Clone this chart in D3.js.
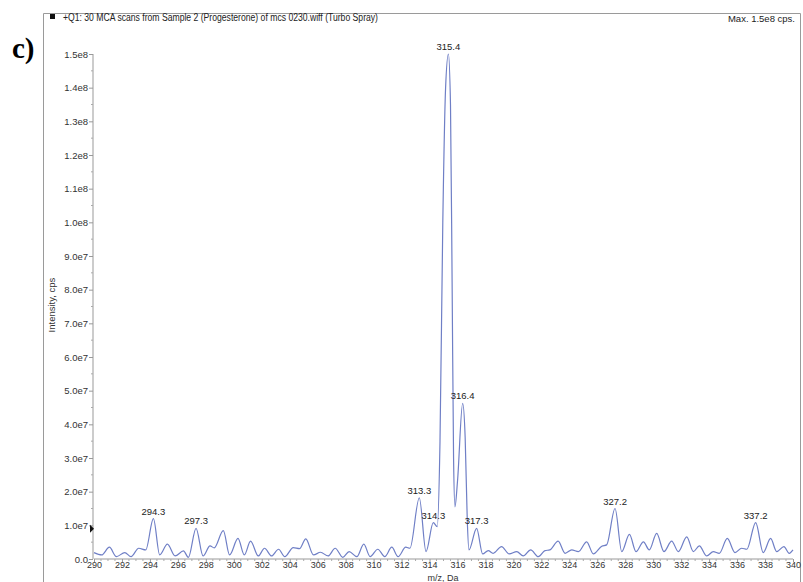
<!DOCTYPE html>
<html>
<head>
<meta charset="utf-8">
<script src="https://cdn.jsdelivr.net/npm/d3@7"></script>
<style>
  body { margin: 0; background: #fff; }
  svg text { font-family: "Liberation Sans", Arial, sans-serif; }
</style>
</head>
<body>
<div id="chart"></div>
<script>
// m/z (Da) and intensity (in units of 1e7 cps)
const mz = [
  290.0, 290.55, 291.1, 291.6, 292.2, 292.65, 293.2, 293.7, 294.25, 294.7,
  295.25, 295.8, 296.4, 296.75, 297.3, 297.8, 298.3, 298.6, 299.25, 299.7,
  300.3, 300.75, 301.2, 301.75, 302.2, 302.7, 303.2, 303.65, 304.25, 304.7,
  305.15, 305.7, 306.2, 306.75, 307.25, 307.8, 308.25, 308.8, 309.3, 309.75,
  310.3, 310.8, 311.3, 311.75, 312.3, 312.6, 313.27, 313.75, 314.27, 314.55,
  314.75, 314.95, 315.15, 315.35, 315.5, 315.62, 315.72, 315.82, 316.0, 316.37,
  316.55, 316.7, 316.82, 317.37, 317.8, 318.2, 318.55, 319.15, 319.7, 320.24,
  320.7, 321.24, 321.78, 322.26, 322.6, 323.2, 323.7, 324.17, 324.65, 325.24,
  325.72, 326.32, 326.67, 327.27, 327.75, 328.3, 328.77, 329.3, 329.72, 330.25,
  330.77, 331.32, 331.8, 332.4, 332.87, 333.3, 333.83, 334.3, 334.73, 335.3,
  335.85, 336.33, 336.7, 337.33, 337.87, 338.4, 338.83, 339.35, 339.73, 340.0
];
const intensity = [
  0.19, 0.12, 0.35, 0.07, 0.19, 0.07, 0.32, 0.27, 1.2, 0.12,
  0.44, 0.09, 0.24, 0.05, 0.91, 0.09, 0.39, 0.33, 0.84, 0.12,
  0.61, 0.12, 0.53, 0.09, 0.32, 0.09, 0.29, 0.07, 0.34, 0.31,
  0.6, 0.12, 0.2, 0.09, 0.32, 0.05, 0.22, 0.07, 0.44, 0.07,
  0.29, 0.07, 0.35, 0.07, 0.35, 0.32, 1.82, 0.22, 1.08, 0.96,
  3.5, 10, 14, 15, 13.5, 8, 3, 1.55, 2.3, 4.62,
  3.6, 1.16, 0.27, 0.91, 0.15, 0.25, 0.17, 0.37, 0.15, 0.22,
  0.09, 0.27, 0.07, 0.25, 0.27, 0.53, 0.17, 0.27, 0.22, 0.51,
  0.15, 0.38, 0.42, 1.5, 0.22, 0.73, 0.22, 0.51, 0.27, 0.76,
  0.22, 0.53, 0.22, 0.66, 0.22, 0.39, 0.09, 0.22, 0.17, 0.61,
  0.19, 0.32, 0.29, 1.08, 0.19, 0.61, 0.22, 0.37, 0.17, 0.27
];

// labelled peaks
const peakMz = [294.25, 297.3, 313.27, 314.27, 315.35, 316.37, 317.37, 327.27, 337.33];
const peakText = ["294.3", "297.3", "313.3", "314.3", "315.4", "316.4", "317.3", "327.2", "337.2"];

// axis ticks
const xTicks = d3.range(290, 341, 2);
const yTicks = [0, 1, 2, 3, 4, 5, 6, 7, 8, 9, 10, 11, 12, 13, 14, 15];
const yTickLabels = ["0.0", "1.0e7", "2.0e7", "3.0e7", "4.0e7", "5.0e7", "6.0e7", "7.0e7",
  "8.0e7", "9.0e7", "1.0e8", "1.1e8", "1.2e8", "1.3e8", "1.4e8", "1.5e8"];

const title = "+Q1: 30 MCA scans from Sample 2 (Progesterone) of mcs 0230.wiff (Turbo Spray)";
const maxText = "Max. 1.5e8 cps.";

const W = 803, H = 582;
const svg = d3.select("#chart").append("svg")
  .attr("width", W).attr("height", H);

// frame
svg.append("path")
  .attr("d", "M43.5,582 V13.5 H800.5 V582")
  .attr("fill", "none").attr("stroke", "#9a9a9a").attr("stroke-width", 1);

svg.append("rect").attr("x", 50).attr("y", 14).attr("width", 5).attr("height", 5).attr("fill", "#111");

svg.append("text")
  .attr("x", 63).attr("y", 21)
  .attr("font-size", 10).attr("fill", "#222")
  .attr("textLength", 315).attr("lengthAdjust", "spacingAndGlyphs")
  .text(title);

svg.append("text")
  .attr("x", 795).attr("y", 22)
  .attr("text-anchor", "end")
  .attr("font-size", 9.5).attr("fill", "#222")
  .text(maxText);

svg.append("text")
  .attr("x", 12).attr("y", 58)
  .style("font-family", "'Liberation Serif', 'Times New Roman', serif")
  .attr("font-size", 29).attr("font-weight", "bold").attr("fill", "#000")
  .text("c)");

// scales
const x = d3.scaleLinear().domain([290, 340]).range([94, 793]);
const y = d3.scaleLinear().domain([0, 15]).range([559, 54]);

// y axis
const yAxis = d3.axisLeft(y)
  .tickValues(yTicks)
  .tickSize(4)
  .tickFormat((d, i) => yTickLabels[i]);
const gy = svg.append("g").attr("transform", "translate(93,0)").call(yAxis);
gy.select(".domain").attr("stroke", "#999").attr("d", "M0," + y(15) + "V" + y(0));
gy.selectAll(".tick line").attr("stroke", "#999");
gy.selectAll(".tick text").attr("font-size", 9.5).attr("fill", "#333")
  .attr("font-family", "'Liberation Sans', Arial, sans-serif").attr("x", -5);
// minor y ticks
svg.append("g").selectAll("line")
  .data(d3.range(0.5, 15, 1))
  .join("line")
  .attr("x1", 93).attr("x2", 91)
  .attr("y1", d => y(d)).attr("y2", d => y(d))
  .attr("stroke", "#aaa");

// x axis
const xAxis = d3.axisBottom(x)
  .tickValues(xTicks)
  .tickSize(3)
  .tickFormat(d3.format("d"));
const gx = svg.append("g").attr("transform", "translate(0," + y(0) + ")").call(xAxis);
gx.select(".domain").attr("stroke", "#999").attr("d", "M" + x(290) + ",0H" + x(340));
gx.selectAll(".tick line").attr("stroke", "#999");
gx.selectAll(".tick text").attr("font-size", 9).attr("fill", "#333")
  .attr("font-family", "'Liberation Sans', Arial, sans-serif").attr("y", 3);
svg.append("g").selectAll("line")
  .data(d3.range(290.5, 340, 0.5).filter(d => d % 2 !== 0))
  .join("line")
  .attr("x1", d => x(d)).attr("x2", d => x(d))
  .attr("y1", y(0)).attr("y2", y(0) + 2)
  .attr("stroke", "#aaa");

// axis titles
svg.append("text")
  .attr("transform", "translate(55,305) rotate(-90)")
  .attr("text-anchor", "middle")
  .attr("font-size", 9.5).attr("fill", "#333")
  .text("Intensity, cps");

svg.append("text")
  .attr("x", 443).attr("y", 581)
  .attr("text-anchor", "middle")
  .attr("font-size", 9).attr("fill", "#333")
  .text("m/z, Da");

// little cursor marker on y axis
svg.append("path")
  .attr("d", "M" + 90 + "," + (y(0.9) - 4) + " l4,4 l-4,4 z")
  .attr("fill", "#111");

// spectrum
const points = mz.map((m, i) => [m, intensity[i]]);
const line = d3.line()
  .x(d => x(d[0]))
  .y(d => y(d[1]))
  .curve(d3.curveMonotoneX);

svg.append("path")
  .datum(points)
  .attr("d", line)
  .attr("fill", "none")
  .attr("stroke", "#6f7fc6")
  .attr("stroke-width", 1.2);

// peak labels
svg.append("g").selectAll("text")
  .data(peakMz)
  .join("text")
  .attr("x", d => x(d))
  .attr("y", d => y(intensity[mz.indexOf(d)]) - 4)
  .attr("text-anchor", "middle")
  .attr("font-size", 9.5)
  .attr("fill", "#222")
  .text((d, i) => peakText[i]);
</script>
</body>
</html>
